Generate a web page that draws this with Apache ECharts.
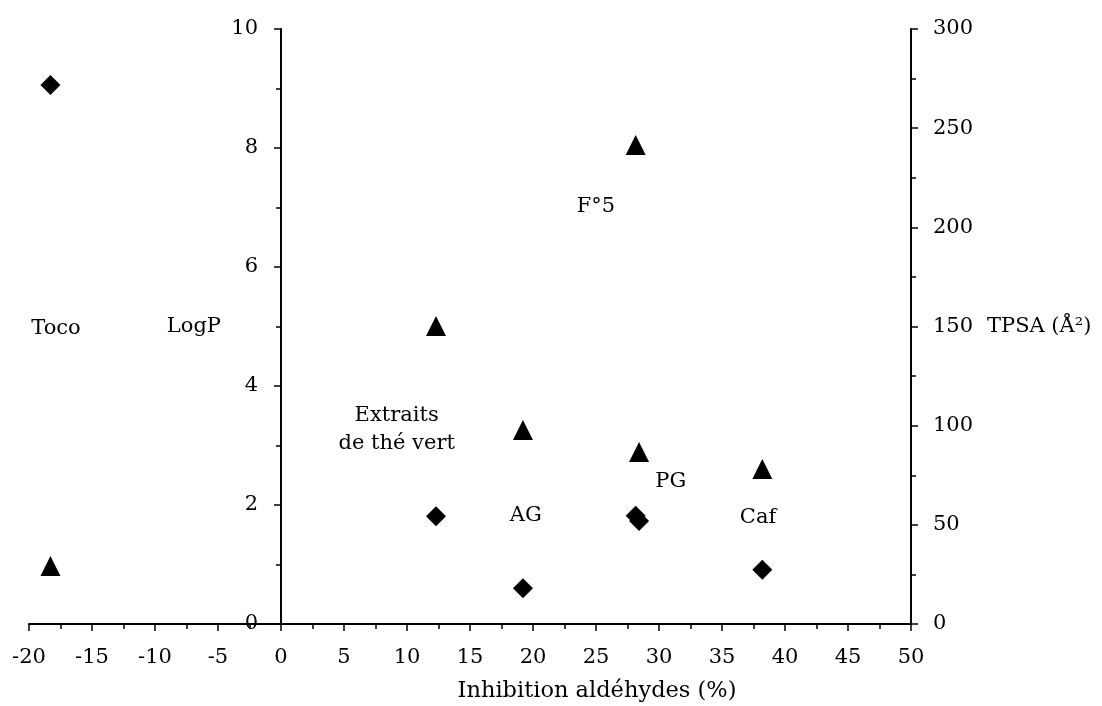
<!DOCTYPE html>
<html>
<head>
<meta charset="utf-8">
<script src="https://cdn.jsdelivr.net/npm/echarts@6/dist/echarts.min.js"></script>
<style>
  html, body { margin: 0; padding: 0; background: #fff; }
  #chart { width: 1102px; height: 706px; }
</style>
</head>
<body>
<div id="chart"></div>
<script>
// compounds, inhibition of aldehydes (%), LogP (left axis), TPSA (right axis)
const compounds = ['Toco', 'Extraits de thé vert', 'AG', 'F°5', 'PG', 'Caf']
const inhibition = [-18.3, 12.3, 19.2, 28.15, 28.42, 38.2]
const logP = [9.06, 1.81, 0.60, 1.82, 1.73, 0.91]
const tpsa = [29.2, 150.3, 97.8, 241.5, 86.7, 78.2]

// annotation texts and where they sit (in x / LogP units)
const noteText = ['Toco', 'Extraits\nde thé vert', 'AG', 'F°5', 'PG', 'Caf']
const noteX = [-17.86, 9.18, 19.42, 25.0, 30.93, 37.86]
const noteY = [4.97, 3.26, 1.83, 7.01, 2.40, 1.79]

const font = 'DejaVu Serif'
const fs = 21

const chart = echarts.init(document.getElementById('chart'))

const axisCommon = {
  axisLine: {onZero: false, lineStyle: {color: '#000', width: 2}},
  axisTick: {show: true, length: 7, lineStyle: {color: '#000', width: 1.5}},
  minorTick: {show: true, splitNumber: 2, length: 5, lineStyle: {color: '#000', width: 1.5}},
  splitLine: {show: false},
  axisLabel: {color: '#000', fontFamily: font, fontSize: fs},
  nameTextStyle: {color: '#000', fontFamily: font, fontSize: fs}
}

const option = {
  animation: false,
  backgroundColor: '#fff',
  grid: {left: 29, right: 191, top: 29, bottom: 82, containLabel: false, outerBoundsMode: 'none'},
  xAxis: {
    ...axisCommon,
    type: 'value',
    min: -20,
    max: 50,
    interval: 5,
    name: 'Inhibition aldéhydes (%)',
    nameLocation: 'middle',
    nameGap: 56,
    axisLabel: {...axisCommon.axisLabel, margin: 23},
    nameTextStyle: {...axisCommon.nameTextStyle, fontSize: 22.5, padding: [0, 0, 0, 254]}
  },
  yAxis: [
    {
      ...axisCommon,
      type: 'value',
      position: 'left',
      // the LogP axis stands at x = 0 (20 units of 12.6 px from the left edge)
      offset: -252,
      min: 0,
      max: 10,
      interval: 2,
      name: 'LogP',
      nameLocation: 'middle',
      nameRotate: 0,
      nameGap: 60,
      axisLabel: {...axisCommon.axisLabel, margin: 23}
    },
    {
      ...axisCommon,
      type: 'value',
      position: 'right',
      min: 0,
      max: 300,
      interval: 50,
      name: 'TPSA (Å²)',
      nameLocation: 'middle',
      nameRotate: 0,
      nameGap: 76,
      axisLabel: {...axisCommon.axisLabel, margin: 22}
    }
  ],
  series: [
    {
      name: 'LogP',
      type: 'scatter',
      yAxisIndex: 0,
      symbol: 'diamond',
      symbolSize: [20, 20],
      itemStyle: {color: '#000', opacity: 1},
      data: inhibition.map((x, i) => ({name: compounds[i], value: [x, logP[i]]}))
    },
    {
      name: 'TPSA',
      type: 'scatter',
      yAxisIndex: 1,
      symbol: 'triangle',
      symbolSize: [20, 20],
      itemStyle: {color: '#000', opacity: 1},
      data: inhibition.map((x, i) => ({name: compounds[i], value: [x, tpsa[i]]}))
    },
    {
      name: 'notes',
      type: 'scatter',
      yAxisIndex: 0,
      symbolSize: 0,
      silent: true,
      itemStyle: {opacity: 1},
      label: {
        show: true,
        position: 'inside',
        formatter: p => p.name,
        color: '#000',
        fontFamily: font,
        fontSize: fs,
        lineHeight: 28,
        align: 'center'
      },
      data: noteX.map((x, i) => ({name: noteText[i], value: [x, noteY[i]]}))
    }
  ]
}

chart.setOption(option)
</script>
</body>
</html>
